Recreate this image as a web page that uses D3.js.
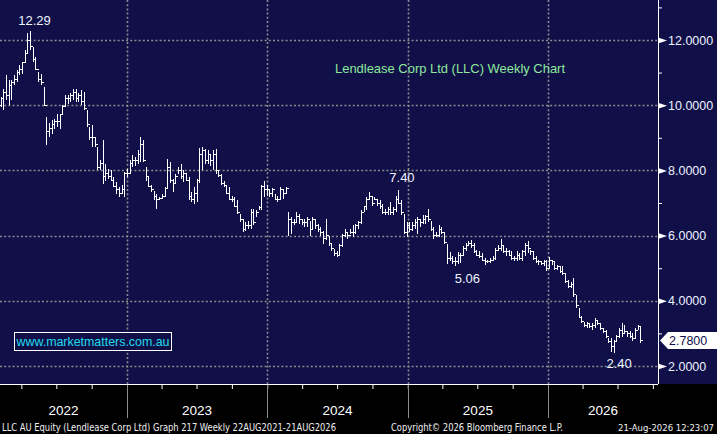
<!DOCTYPE html>
<html>
<head>
<meta charset="utf-8">
<script src="https://cdn.jsdelivr.net/npm/d3@7"></script>
<style>
  body { margin: 0; background: #000; }
  svg { display: block; font-family: "Liberation Sans", Arial, sans-serif; }
</style>
</head>
<body>
<svg></svg>
<script>
// LLC weekly bars
const firstWeek = new Date(2022, 0, 31);

const weekHigh = [
  10.36,10.26,10.51,10.92,10.77,10.77,10.92,11.08,11.23,11.33,
  11.69,12.2,12.29,11.8,11.49,11.03,10.97,10.56,9.64,9.44,
  9.54,9.59,9.74,9.74,10.0,10.31,10.31,10.36,10.51,10.51,
  10.36,10.46,10.41,9.85,9.33,9.38,9.03,8.72,8.31,8.92,
  8.21,8.05,8.0,7.79,7.64,7.49,7.54,7.95,8.05,8.31,
  8.46,8.41,8.62,9.03,8.92,8.1,7.79,7.54,7.38,7.28,
  7.18,7.28,7.49,8.36,8.26,7.74,7.9,8.1,8.21,8.0,
  7.9,7.79,7.33,7.49,7.74,8.7,8.72,8.67,8.62,8.51,
  8.62,8.67,8.0,7.9,7.69,7.54,7.49,7.23,7.18,7.08,
  6.67,6.51,6.41,6.46,6.82,6.82,6.77,6.92,7.54,7.69,
  7.54,7.44,7.47,7.28,7.23,7.49,7.44,7.5,6.72,6.56,
  6.51,6.72,6.67,6.51,6.51,6.56,6.46,6.56,6.51,6.36,
  6.26,6.15,6.51,6.0,5.74,5.59,5.54,5.74,6.05,6.2,
  6.1,6.2,6.31,6.36,6.46,6.77,6.92,7.18,7.33,7.23,
  7.18,7.13,7.08,6.97,6.82,6.87,7.03,6.87,7.23,7.4,
  7.08,6.67,6.41,6.41,6.41,6.51,6.56,6.51,6.62,6.62,
  6.82,6.46,6.26,6.1,6.31,6.26,6.1,5.74,5.49,5.38,
  5.33,5.49,5.47,5.67,5.77,5.83,5.85,5.77,5.57,5.52,
  5.47,5.31,5.26,5.3,5.36,5.62,5.72,5.91,5.67,5.62,
  5.57,5.52,5.36,5.52,5.47,5.57,5.77,5.83,5.57,5.52,
  5.36,5.26,5.23,5.26,5.26,5.33,5.26,5.21,5.11,5.06,
  5.06,4.85,4.65,4.59,4.7,4.18,3.77,3.52,3.36,3.36,
  3.31,3.31,3.47,3.42,3.31,3.16,3.11,2.85,2.85,2.8,
  2.95,3.16,3.31,3.26,3.06,3.06,3.0,3.16,3.26,3.24
];
const weekLow = [
  9.79,9.95,9.85,10.15,10.0,10.15,10.62,10.72,10.92,10.97,
  11.28,11.59,11.69,11.33,11.08,10.72,10.62,9.97,8.77,9.03,
  9.13,9.28,9.33,9.28,9.69,9.95,10.05,10.1,10.15,10.1,
  10.1,10.0,9.85,9.33,8.92,8.72,8.72,8.0,8.0,7.59,
  7.69,7.74,7.69,7.49,7.28,7.18,7.28,7.18,7.79,7.9,
  8.1,8.15,8.21,8.26,8.26,7.69,7.49,7.33,7.08,6.82,
  7.08,7.13,7.18,7.45,7.6,7.33,7.59,7.9,7.74,7.64,
  7.69,7.08,7.03,6.97,7.03,7.6,8.0,8.21,8.21,8.15,
  8.0,7.9,7.79,7.54,7.49,7.28,7.08,7.03,6.87,6.67,
  6.41,6.1,6.15,6.2,6.2,6.31,6.56,6.77,6.77,7.18,
  7.23,7.18,7.18,7.08,7.03,7.08,7.13,7.28,6.0,6.05,
  6.31,6.41,6.36,6.31,6.26,6.26,6.0,6.2,6.2,6.1,
  6.0,5.74,5.85,5.69,5.54,5.38,5.33,5.38,5.64,5.95,
  5.9,6.05,5.95,6.05,6.2,6.36,6.72,6.77,7.08,6.92,
  7.08,6.92,6.82,6.67,6.62,6.62,6.62,6.62,6.72,6.97,
  6.62,6.05,5.95,6.1,6.15,6.2,6.05,6.26,6.36,6.36,
  6.41,6.15,5.9,5.95,5.95,6.05,5.74,5.13,5.23,5.13,
  5.06,5.13,5.16,5.36,5.52,5.67,5.62,5.47,5.36,5.31,
  5.21,5.11,5.16,5.16,5.21,5.26,5.52,5.52,5.47,5.36,
  5.36,5.26,5.21,5.21,5.26,5.21,5.36,5.47,5.42,5.26,
  5.16,5.11,5.11,5.06,4.9,5.0,5.11,4.95,4.95,4.85,
  4.8,4.54,4.39,4.39,4.13,3.77,3.47,3.31,3.21,3.16,
  3.16,3.11,3.16,3.26,3.11,3.0,2.85,2.7,2.44,2.4,
  2.75,2.85,2.9,3.0,2.9,2.85,2.77,2.85,3.11,2.7
];
const weekClose = [
  10.0,10.2,10.4,10.3,10.6,10.7,10.8,11.0,11.1,11.3,
  11.6,12.0,11.8,11.4,11.1,10.8,10.7,10.0,9.2,9.3,
  9.4,9.5,9.5,9.7,9.95,10.2,10.2,10.3,10.4,10.2,
  10.3,10.1,9.9,9.4,9.0,9.0,8.8,8.1,8.2,7.8,
  7.9,7.8,7.7,7.5,7.4,7.3,7.4,7.9,7.9,8.2,
  8.3,8.3,8.5,8.8,8.3,7.8,7.5,7.4,7.2,7.1,
  7.15,7.2,7.45,8.1,7.7,7.6,7.8,8.0,7.8,7.9,
  7.7,7.2,7.1,7.3,7.7,8.5,8.6,8.3,8.5,8.3,
  8.5,8.0,7.85,7.6,7.55,7.3,7.1,7.1,6.9,6.7,
  6.5,6.2,6.3,6.3,6.7,6.4,6.7,6.85,7.5,7.4,
  7.4,7.3,7.4,7.1,7.1,7.4,7.3,7.45,6.5,6.4,
  6.4,6.6,6.5,6.4,6.4,6.5,6.2,6.5,6.3,6.2,
  6.1,5.9,6.0,5.75,5.6,5.45,5.4,5.7,6.0,6.1,
  6.0,6.1,6.1,6.3,6.4,6.7,6.9,7.1,7.2,7.0,
  7.1,7.0,6.9,6.7,6.7,6.8,6.7,6.8,7.1,7.0,
  6.7,6.1,6.3,6.2,6.3,6.4,6.5,6.4,6.5,6.6,
  6.5,6.2,6.0,6.0,6.2,6.1,5.8,5.3,5.3,5.2,
  5.2,5.4,5.4,5.6,5.7,5.75,5.7,5.5,5.4,5.35,
  5.25,5.2,5.2,5.25,5.3,5.55,5.6,5.7,5.5,5.5,
  5.4,5.3,5.3,5.4,5.3,5.5,5.7,5.6,5.5,5.3,
  5.2,5.2,5.15,5.2,5.0,5.25,5.2,5.0,5.05,4.9,
  4.85,4.6,4.45,4.5,4.2,3.85,3.5,3.35,3.25,3.3,
  3.2,3.25,3.4,3.3,3.15,3.05,2.9,2.75,2.6,2.75,
  2.9,3.1,3.0,3.05,3.0,2.9,2.85,3.1,3.2,2.78
];

const priceMajor = [2, 4, 6, 8, 10, 12];
const priceMinor = [3, 5, 7, 9, 11, 13];
const yearLabels = ["2022", "2023", "2024", "2025", "2026"];
const markIndex = [12, 149, 170, 229];
const markText = ["12.29", "7.40", "5.06", "2.40"];
const lastPrice = 2.78;

const w = 717, h = 434;
const plotRight = 658, plotBottom = 384;
const navy = "#100f48";

const svg = d3.select("svg").attr("width", w).attr("height", h);

// scales
const x = d3.scaleTime()
  .domain([new Date(2023, 0, 1), new Date(2026, 0, 1)])
  .range([127, 548]);
const y = d3.scaleLinear().domain([2, 12]).range([366, 40]);

const dates = weekClose.map((d, i) => d3.timeWeek.offset(firstWeek, i));

// background
svg.append("rect").attr("width", w).attr("height", plotBottom).attr("fill", navy);

// dotted grid
const grid = svg.append("g").attr("stroke", "#8c8c8c").attr("stroke-width", 1.6)
  .attr("stroke-dasharray", "2,2.2");
grid.selectAll(".hg").data(priceMajor).enter().append("line")
  .attr("x1", 0).attr("x2", plotRight)
  .attr("y1", d => Math.round(y(d)) + 0.5).attr("y2", d => Math.round(y(d)) + 0.5);
const yearStarts = d3.timeYear.range(new Date(2023, 0, 1), new Date(2026, 1, 1));
grid.selectAll(".vg").data(yearStarts).enter().append("line")
  .attr("x1", d => Math.round(x(d)) + 0.5).attr("x2", d => Math.round(x(d)) + 0.5)
  .attr("y1", 0).attr("y2", plotBottom);

// bars
const bars = svg.append("g").attr("stroke", "#fff").attr("stroke-width", 1)
  .attr("shape-rendering", "crispEdges");
dates.forEach((d, i) => {
  const cx = x(d);
  bars.append("line").attr("x1", cx).attr("x2", cx)
    .attr("y1", y(weekHigh[i])).attr("y2", y(weekLow[i]));
  if (i > 0) {
    bars.append("line").attr("x1", cx - 1.6).attr("x2", cx)
      .attr("y1", y(weekClose[i - 1])).attr("y2", y(weekClose[i - 1]));
  }
  bars.append("line").attr("x1", cx).attr("x2", cx + 1.6)
    .attr("y1", y(weekClose[i])).attr("y2", y(weekClose[i]));
});

// high/low annotations
const markOffset = [[4, -6], [3, -8], [12, 17], [5, 15]];
markIndex.forEach((idx, k) => {
  const isHigh = k < 2;
  const v = isHigh ? weekHigh[idx] : weekLow[idx];
  svg.append("text")
    .attr("x", x(dates[idx]) + markOffset[k][0])
    .attr("y", y(v) + markOffset[k][1])
    .attr("text-anchor", "middle")
    .attr("font-size", 13).attr("fill", "#eef3ff")
    .text(markText[k]);
});

// right axis
svg.append("line").attr("x1", plotRight + 0.5).attr("x2", plotRight + 0.5)
  .attr("y1", 0).attr("y2", plotBottom).attr("stroke", "#fff");
svg.append("line").attr("x1", 0).attr("x2", plotRight)
  .attr("y1", plotBottom + 0.5).attr("y2", plotBottom + 0.5).attr("stroke", "#fff");

const minorAxis = svg.append("g").attr("transform", `translate(${plotRight},0)`)
  .call(d3.axisRight(y).tickValues(priceMinor).tickSize(4).tickFormat(""));
minorAxis.select(".domain").remove();
minorAxis.selectAll("line").attr("stroke", "#fff");

const majorAxis = svg.append("g").attr("transform", `translate(${plotRight},0)`)
  .call(d3.axisRight(y).tickValues(priceMajor).tickSize(0).tickPadding(10)
    .tickFormat(d3.format(".4f")));
majorAxis.select(".domain").remove();
majorAxis.selectAll("text").attr("fill", "#eef2ff").attr("font-size", 12.5)
  .attr("font-family", "Liberation Sans, Arial, sans-serif");
majorAxis.selectAll(".tick").append("path")
  .attr("d", "M0,-3L9,0L0,3Z").attr("fill", "#fff");

// last price tag
const ly = y(lastPrice);
svg.append("path")
  .attr("d", `M660,${ly}L668,${ly - 8.5}L717,${ly - 8.5}L717,${ly + 8.5}L668,${ly + 8.5}Z`)
  .attr("fill", "#fff");
svg.append("text").attr("x", 669).attr("y", ly + 4.5)
  .attr("font-size", 12.5).attr("fill", navy).text(d3.format(".4f")(lastPrice));

// bottom axis: quarter ticks, year separators, year labels
const quarters = d3.timeMonth.every(3).range(x.invert(0), x.invert(plotRight));
const xAxis = svg.append("g").attr("transform", `translate(0,${plotBottom})`)
  .call(d3.axisBottom(x).tickValues(quarters).tickSize(5).tickFormat(""));
xAxis.select(".domain").remove();
xAxis.selectAll("line").attr("stroke", "#fff");

svg.selectAll(".ysep").data(yearStarts).enter().append("line")
  .attr("x1", d => Math.round(x(d)) + 0.5).attr("x2", d => Math.round(x(d)) + 0.5)
  .attr("y1", plotBottom + 1).attr("y2", 418).attr("stroke", "#8c8c8c");

yearLabels.forEach(yr => {
  const a = Math.max(0, x(new Date(+yr, 0, 1)));
  const b = Math.min(plotRight, x(new Date(+yr + 1, 0, 1)));
  svg.append("text").attr("x", (a + b) / 2).attr("y", 415)
    .attr("text-anchor", "middle").attr("font-size", 13.5).attr("fill", "#fff")
    .text(yr);
});

// chart title and website box
svg.append("text").attr("x", 335).attr("y", 73)
  .attr("font-size", 13.5).attr("fill", "#8ee89c")
  .attr("textLength", 230).attr("lengthAdjust", "spacingAndGlyphs")
  .text("Lendlease Corp Ltd (LLC) Weekly Chart");

svg.append("rect").attr("x", 14.5).attr("y", 332.5).attr("width", 157).attr("height", 18)
  .attr("fill", navy).attr("stroke", "#fff").attr("stroke-width", 1);
svg.append("text").attr("x", 16.5).attr("y", 346)
  .attr("font-size", 13).attr("fill", "#22dcec")
  .attr("textLength", 153).attr("lengthAdjust", "spacingAndGlyphs")
  .text("www.marketmatters.com.au");

// footer
const foot = svg.append("g").attr("font-size", 10.5).attr("fill", "#f0f0f0")
  .attr("font-family", "Liberation Sans Narrow, DejaVu Sans Condensed, sans-serif");
foot.append("text").attr("x", 2).attr("y", 431)
  .attr("textLength", 334).attr("lengthAdjust", "spacingAndGlyphs")
  .text("LLC AU Equity (Lendlease Corp Ltd) Graph 217 Weekly 22AUG2021-21AUG2026");
foot.append("text").attr("x", 391).attr("y", 431)
  .attr("textLength", 172).attr("lengthAdjust", "spacingAndGlyphs")
  .text("Copyright\u00a9 2026 Bloomberg Finance L.P.");
foot.append("text").attr("x", 618).attr("y", 431).attr("font-size", 9.5)
  .attr("textLength", 96).attr("lengthAdjust", "spacingAndGlyphs")
  .text("21-Aug-2026 12:23:07");
</script>
</body>
</html>
